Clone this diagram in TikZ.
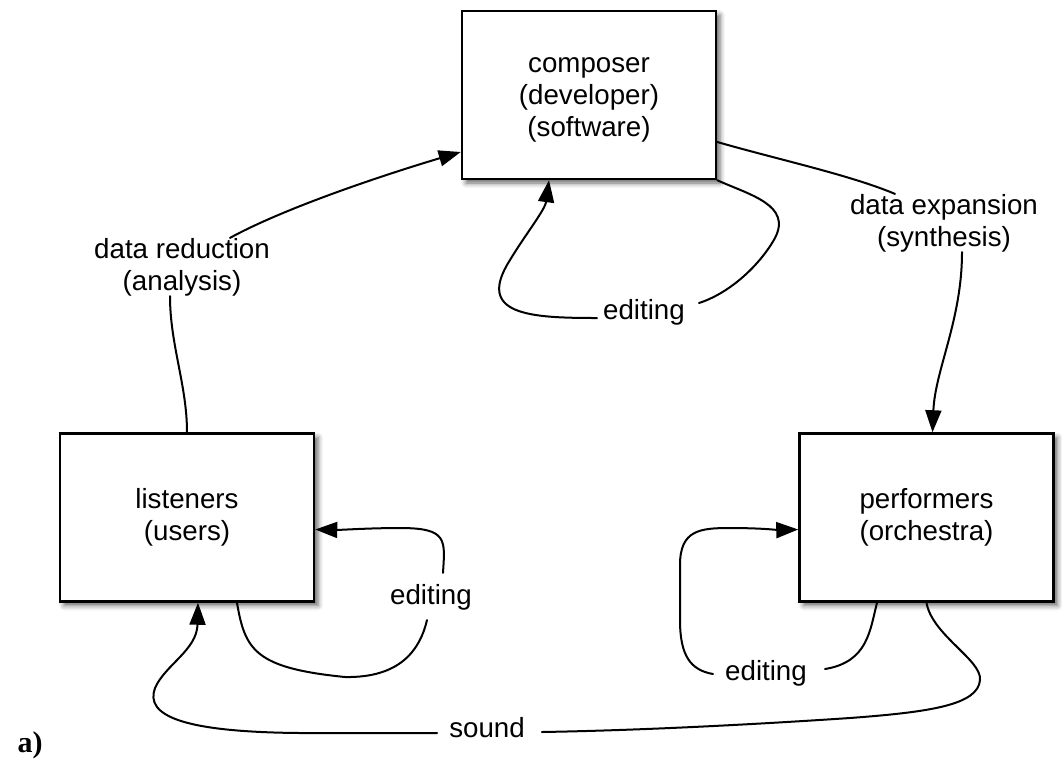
\documentclass[tikz,border=0pt]{standalone}
\usepackage{fontspec}
\setmainfont{Liberation Sans}
\newfontfamily\serifbf{Liberation Serif}
\usetikzlibrary{arrows.meta,shadows.blur}
\begin{document}
\begin{tikzpicture}[x=1pt,y=-1pt,
  box/.style={draw, line width=2.5pt, fill=white, minimum width=254pt, minimum height=168pt,
    align=center, font=\fontsize{27.7}{32}\selectfont,
    blur shadow={shadow xshift=4pt, shadow yshift=-4pt, shadow blur radius=5pt, shadow opacity=60}},
  lbl/.style={inner sep=0pt, align=center, font=\fontsize{27.7}{32}\selectfont},
  conn/.style={line width=2pt, line cap=round},
  arr/.style={conn, -{Triangle[length=22pt,width=16pt]}}]
\path[use as bounding box] (0,0) rectangle (1062,772);

% boxes
\node[box] (comp) at (589,95) {};
\node[lbl] (comptxt) at (589,100) {composer\\(developer)\\(software)};
\node[box] (list) at (187,517.5) {listeners\\(users)};
\node[box] (perf) at (926.5,517.5) {performers\\(orchestra)};

% labels
\node[lbl] (dr) at (182,267) {data reduction\\(analysis)};
\node[lbl] (de) at (944,223) {data expansion\\(synthesis)};
\node[lbl] (ec) at (644,312) {editing};
\node[lbl] (el) at (431,597) {editing};
\node[lbl] (ep) at (766,673) {editing};
\node[lbl] (snd) at (487,728) {sound};
\node[inner sep=0pt, font=\serifbf\bfseries\fontsize{30}{34}\selectfont] (tag) at (30,745) {a)};

% data reduction: listeners -> composer
\draw[conn] (list.north) .. controls (187,385) and (170,345) .. ([xshift=-12pt]dr.south);
\draw[arr] ([xshift=48pt]dr.north) .. controls (290,205) and (400,170) .. ([yshift=-57pt]comp.west);

% data expansion: composer -> performers
\draw[conn] ([yshift=-47pt]comp.east) .. controls (780,160) and (850,175) .. ([xshift=-49pt]de.north);
\draw[arr] ([xshift=18pt]de.south) .. controls (962,320) and (935,370) .. ([xshift=6pt]perf.north);

% composer editing loop
\draw[conn] (comp.south east) .. controls (750,195) and (792,205) .. (775,238)
  .. controls (760,265) and (730,293) .. ([shift={(14pt,9pt)}]ec.east);
\draw[arr] ([shift={(-6pt,-6pt)}]ec.west) .. controls (530,318) and (475,315) .. (510,260)
  .. controls (525,235) and (545,210) .. ([xshift=-40pt]comp.south);

% listeners editing loop
\draw[conn] ([xshift=50pt]list.south) .. controls (245,650) and (255,668) .. (345,677)
  .. controls (400,678) and (420,650) .. ([shift={(-4pt,-10pt)}]el.south);
\draw[arr] ([shift={(12pt,11pt)}]el.north) .. controls (445,540) and (448,528) .. (400,528)
  .. controls (370,528) and (340,530) .. ([yshift=-12pt]list.east);

% performers editing loop
\draw[conn] ([xshift=-49.5pt]perf.south) .. controls (870,630) and (868,662) .. ([shift={(18pt,4pt)}]ep.east);
\draw[arr] ([shift={(-12pt,-1pt)}]ep.west) .. controls (690,670) and (680,655) .. (680,620)
  -- (680,565) .. controls (680,530) and (700,528) .. (730,528)
  .. controls (760,528) and (780,530) .. ([yshift=-12pt]perf.west);

% sound: performers -> listeners
\draw[conn] (perf.south) .. controls (932,635) and (982,660) .. (980,680)
  .. controls (978,705) and (930,712) .. (850,718)
  .. controls (700,728) and (600,731) .. ([shift={(17pt,-4pt)}]snd.east);
\draw[arr] ([shift={(-12pt,-5pt)}]snd.west) -- (300,733) .. controls (180,732) and (145,715) .. (155,688)
  .. controls (165,665) and (197,650) .. ([xshift=11pt]list.south);
\end{tikzpicture}
\end{document}
